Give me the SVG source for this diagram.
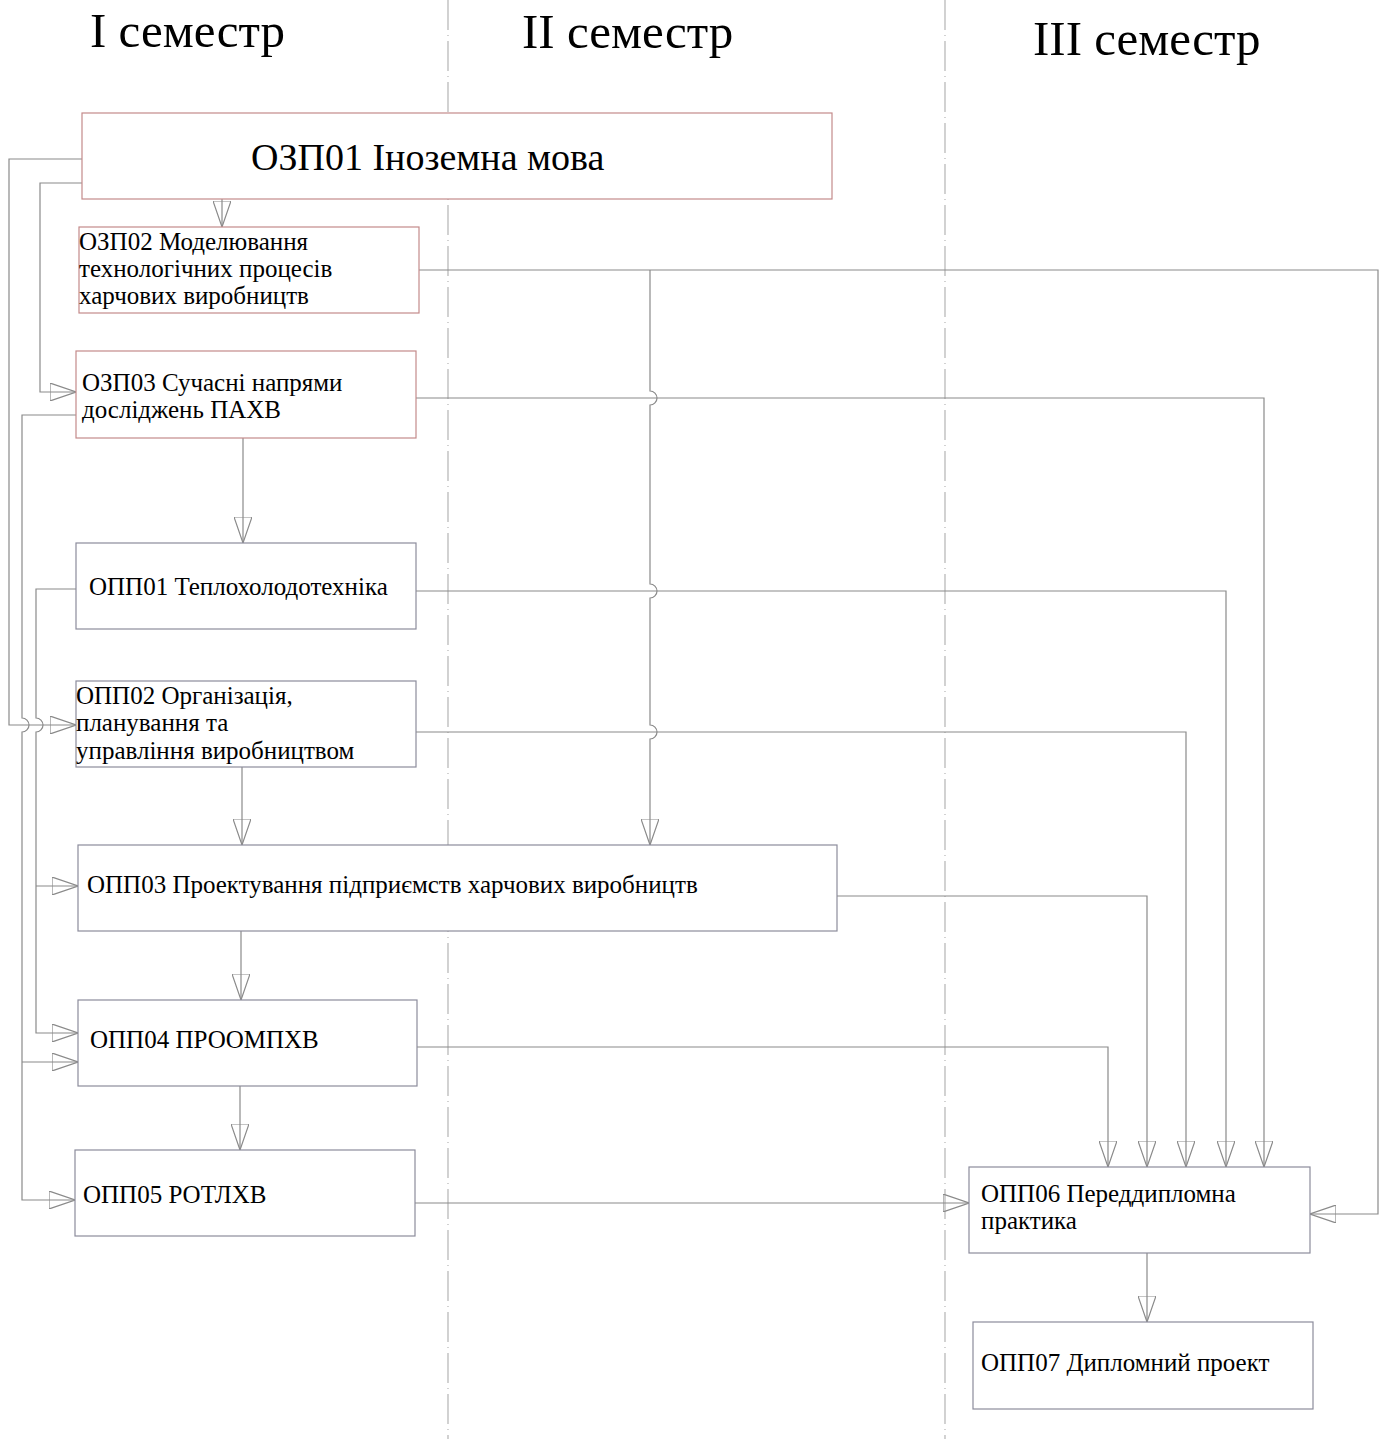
<svg xmlns="http://www.w3.org/2000/svg" width="1384" height="1439" viewBox="0 0 1384 1439">
<style>
.bg{fill:#ffffff}
.sep{stroke:#b4b4b4;stroke-width:1.2;stroke-dasharray:30 5 1 5;fill:none}
.title{font-family:"Liberation Serif","Times New Roman",serif;font-size:49px;fill:#000}
.big{font-family:"Liberation Serif","Times New Roman",serif;font-size:38px;fill:#000}
.t{font-family:"Liberation Serif","Times New Roman",serif;font-size:25px;fill:#000}
.red{fill:#ffffff;stroke:#c48a8a;stroke-width:1.2}
.gray{fill:#ffffff;stroke:#8c8c9c;stroke-width:1.2}
.c{fill:none;stroke:#8a8a8a;stroke-width:1.2}
</style>
<defs>
<marker id="ah" viewBox="0 0 26 18" refX="26" refY="9" markerWidth="26" markerHeight="18" markerUnits="userSpaceOnUse" orient="auto">
<path d="M0,0 L26,9 L0,18 Z" fill="none" stroke="#8a8a8a" stroke-width="1.2"/>
</marker>
</defs>
<rect class="bg" x="0" y="0" width="1384" height="1439"/>
<g id="separators">
<line class="sep" x1="448" y1="0" x2="448" y2="1439"/>
<line class="sep" x1="945" y1="0" x2="945" y2="1439"/>
</g>
<g id="titles">
<text class="title" x="90" y="47">I семестр</text>
<text class="title" x="522" y="48">II семестр</text>
<text class="title" x="1033" y="55">III семестр</text>
</g>
<g id="connectors">
<path class="c" d="M222,199 V227" marker-end="url(#ah)"/>
<path class="c" d="M243,438 V543" marker-end="url(#ah)"/>
<path class="c" d="M242,767 V845" marker-end="url(#ah)"/>
<path class="c" d="M241,931 V1000" marker-end="url(#ah)"/>
<path class="c" d="M240,1086 V1150" marker-end="url(#ah)"/>
<path class="c" d="M1147,1253 V1322" marker-end="url(#ah)"/>
<path class="c" d="M82,159 H9 V725 H76" marker-end="url(#ah)"/>
<path class="c" d="M82,183 H40 V392 H76" marker-end="url(#ah)"/>
<path class="c" d="M76,415 H22 V718 a7,7 0 0 1 0,14 V1200 H75" marker-end="url(#ah)"/>
<path class="c" d="M22,1062 H78" marker-end="url(#ah)"/>
<path class="c" d="M76,589 H36 V718 a7,7 0 0 1 0,14 V1033 H78" marker-end="url(#ah)"/>
<path class="c" d="M36,886 H78" marker-end="url(#ah)"/>
<path class="c" d="M419,270 H1378 V1214 H1310" marker-end="url(#ah)"/>
<path class="c" d="M650,270 V391 a7,7 0 0 1 0,14 V584 a7,7 0 0 1 0,14 V725 a7,7 0 0 1 0,14 V845" marker-end="url(#ah)"/>
<path class="c" d="M416,398 H1264 V1167" marker-end="url(#ah)"/>
<path class="c" d="M416,591 H1226 V1167" marker-end="url(#ah)"/>
<path class="c" d="M416,732 H1186 V1167" marker-end="url(#ah)"/>
<path class="c" d="M837,896 H1147 V1167" marker-end="url(#ah)"/>
<path class="c" d="M417,1047 H1108 V1167" marker-end="url(#ah)"/>
<path class="c" d="M415,1203 H969" marker-end="url(#ah)"/>
</g>
<g id="OZP01">
<rect class="red" x="82" y="113" width="750" height="86"/>
<text class="big" x="251" y="170">ОЗП01 Іноземна мова</text>
</g>
<g id="OZP02">
<rect class="red" x="79" y="227" width="340" height="86"/>
<text class="t" x="79" y="250">ОЗП02 Моделювання</text>
<text class="t" x="79" y="277">технологічних процесів</text>
<text class="t" x="79" y="304">харчових виробництв</text>
</g>
<g id="OZP03">
<rect class="red" x="76" y="351" width="340" height="87"/>
<text class="t" x="82" y="391">ОЗП03 Сучасні напрями</text>
<text class="t" x="82" y="418">досліджень ПАХВ</text>
</g>
<g id="OPP01">
<rect class="gray" x="76" y="543" width="340" height="86"/>
<text class="t" x="89" y="595">ОПП01 Теплохолодотехніка</text>
</g>
<g id="OPP02">
<rect class="gray" x="76" y="681" width="340" height="86"/>
<text class="t" x="76" y="704">ОПП02 Організація,</text>
<text class="t" x="76" y="731">планування та</text>
<text class="t" x="76" y="759">управління виробництвом</text>
</g>
<g id="OPP03">
<rect class="gray" x="78" y="845" width="759" height="86"/>
<text class="t" x="87" y="893">ОПП03 Проектування підприємств харчових виробництв</text>
</g>
<g id="OPP04">
<rect class="gray" x="78" y="1000" width="339" height="86"/>
<text class="t" x="90" y="1048">ОПП04 ПРООМПХВ</text>
</g>
<g id="OPP05">
<rect class="gray" x="75" y="1150" width="340" height="86"/>
<text class="t" x="83" y="1203">ОПП05 РОТЛХВ</text>
</g>
<g id="OPP06">
<rect class="gray" x="969" y="1167" width="341" height="86"/>
<text class="t" x="981" y="1202">ОПП06 Переддипломна</text>
<text class="t" x="981" y="1229">практика</text>
</g>
<g id="OPP07">
<rect class="gray" x="973" y="1322" width="340" height="87"/>
<text class="t" x="981" y="1371">ОПП07 Дипломний проект</text>
</g>
</svg>
